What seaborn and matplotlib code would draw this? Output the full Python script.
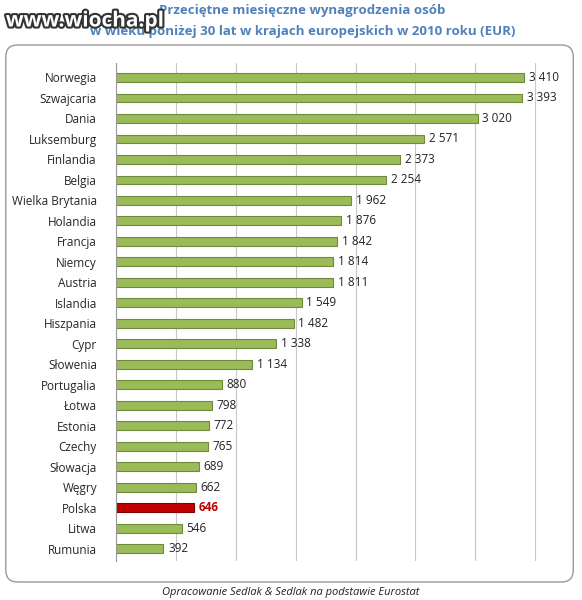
import matplotlib
matplotlib.use("Agg")
import matplotlib.pyplot as plt
import matplotlib.patheffects as pe
from matplotlib.patches import FancyBboxPatch
import seaborn as sns
import pandas as pd

countries = ["Norwegia", "Szwajcaria", "Dania", "Luksemburg", "Finlandia", "Belgia",
             "Wielka Brytania", "Holandia", "Francja", "Niemcy", "Austria", "Islandia",
             "Hiszpania", "Cypr", "Słowenia", "Portugalia", "Łotwa", "Estonia", "Czechy",
             "Słowacja", "Węgry", "Polska", "Litwa", "Rumunia"]
values = [3410, 3393, 3020, 2571, 2373, 2254, 1962, 1876, 1842, 1814, 1811, 1549,
          1482, 1338, 1134, 880, 798, 772, 765, 689, 662, 646, 546, 392]

df = pd.DataFrame({"country": countries, "value": values})
colors = ["#c00000" if c == "Polska" else "#9bbb59" for c in countries]

sns.set_style("white")
plt.rcParams['font.family'] = ['Open Sans', 'DejaVu Sans']
fig = plt.figure(figsize=(5.82, 6.0), dpi=100)
ax = fig.add_axes([0.2, 0.065, 0.74, 0.83])

sns.barplot(data=df, y="country", x="value", hue="country", palette=colors, saturation=1,
            legend=False, width=0.42, ax=ax, edgecolor="#6f8a3a", linewidth=0.8)
ax.patches[countries.index("Polska")].set_edgecolor("#800000")

for i, v in enumerate(values):
    s = f"{v:,}".replace(",", " ")
    red = countries[i] == "Polska"
    ax.text(v + 40, i, s, va="center", ha="left", fontsize=8.5,
            color="#c00000" if red else "#222222", fontweight="bold" if red else "normal")

ax.set_xlim(0, 3600)
ax.set_ylim(len(countries) - 0.4, -0.7)
ax.set_xticks(range(0, 3600, 500))
ax.set_xticklabels([])
ax.grid(axis="x", color="#c8c8c8", linewidth=0.8)
ax.set_axisbelow(True)
ax.set_xlabel("")
ax.set_ylabel("")
ax.tick_params(axis="y", labelsize=8.5, length=0, pad=14)
for sp in ["top", "right", "bottom"]:
    ax.spines[sp].set_visible(False)
ax.spines["left"].set_color("#999999")

fig.patches.append(FancyBboxPatch((0.01, 0.03), 0.975, 0.895, boxstyle="round,pad=0,rounding_size=0.02",
                                  transform=fig.transFigure, fill=False, edgecolor="#999999", linewidth=1))

fig.text(0.52, 0.982, "Przeciętne miesięczne wynagrodzenia osób", ha="center", va="center",
         fontsize=9.5, fontweight="bold", color="#4f81bd")
fig.text(0.52, 0.948, "w wieku poniżej 30 lat w krajach europejskich w 2010 roku (EUR)", ha="center",
         va="center", fontsize=9.5, fontweight="bold", color="#4f81bd")
fig.text(0.01, 0.965, "www.wiocha.pl", ha="left", va="center", fontsize=15, fontweight="bold",
         color="white", path_effects=[pe.withStroke(linewidth=3, foreground="#333333")])
fig.text(0.5, 0.012, "Opracowanie Sedlak & Sedlak na podstawie Eurostat", ha="center", va="center",
         fontsize=8, style="italic", color="#222222")

fig.savefig("out.png", dpi=100)
